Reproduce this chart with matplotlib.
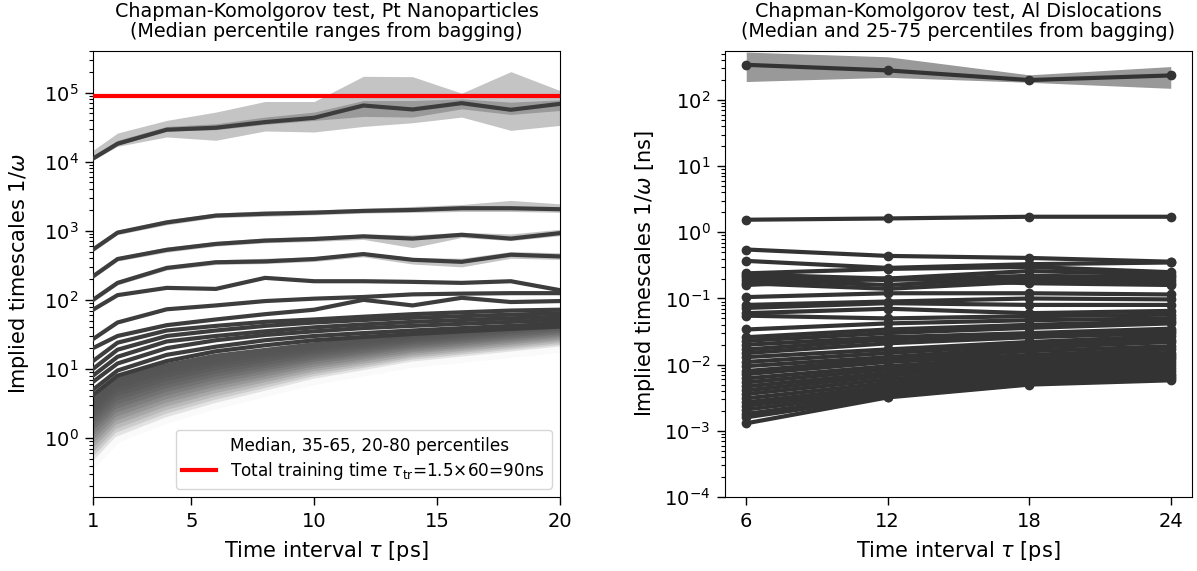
import numpy as np
import matplotlib
matplotlib.use("Agg")
import matplotlib.pyplot as plt
from matplotlib.lines import Line2D
from matplotlib.ticker import LogLocator, NullFormatter

# ---------------- Left panel data (Pt nanoparticles) ----------------
tau_left = [1, 2, 4, 6, 8, 10, 12, 14, 16, 18, 20]

# slowest process: median, 35-65 and 20-80 percentile bands
top_med = [11100, 18200, 29000, 31000, 37400, 43200, 65000, 57000, 70300, 56400, 68700]
top_p35 = [10700, 17300, 27800, 29000, 34700, 39600, 45200, 44200, 58200, 48300, 55100]
top_p65 = [11700, 20400, 32400, 35400, 44200, 52200, 76800, 76800, 81100, 72700, 78500]
top_p20 = [10500, 16700, 22800, 20400, 27800, 26900, 32400, 36600, 44200, 28400, 33500]
top_p80 = [14600, 26000, 39600, 52200, 74300, 74300, 172000, 170000, 98000, 201000, 107000]

l2_med = [535, 940, 1320, 1660, 1760, 1830, 1940, 2000, 2120, 2120, 2050]
l2_p20 = [500, 880, 1220, 1550, 1620, 1700, 1800, 1850, 1900, 1900, 1850]
l2_p80 = [580, 1020, 1450, 1800, 1950, 2000, 2100, 2250, 2400, 2750, 2450]

l3_med = [219, 390, 530, 645, 720, 760, 830, 770, 875, 770, 925]
l3_p20 = [205, 365, 490, 600, 670, 700, 750, 570, 800, 720, 850]
l3_p80 = [235, 420, 580, 700, 790, 830, 900, 870, 950, 900, 1050]

l4_med = [100, 176, 290, 350, 360, 390, 460, 380, 355, 450, 425]
l4_p20 = [93, 165, 270, 325, 335, 360, 420, 330, 300, 400, 385]
l4_p80 = [108, 190, 310, 380, 400, 420, 490, 410, 400, 500, 480]

l5_med = [72, 117, 149, 144, 208, 186, 186, 182, 176, 186, 138]
l6_med = [27, 47, 73, 83, 96, 104, 110, 120, 123, 125, 125]
l7_med = [20, 30, 43, 52, 62, 72, 100, 83, 107, 93, 96]
l8_med = [13, 24, 36, 42, 48, 52, 57, 62, 66, 70, 72]
l9_med = [10, 19, 30, 36, 42, 47, 51, 55, 58, 61, 64]
l10_med = [8, 15, 25, 30, 35, 40, 44, 48, 51, 54, 57]
l11_med = [6.5, 12, 20, 26, 31, 35, 39, 42, 45, 48, 51]
l12_med = [5, 9.5, 16, 21, 26, 30, 33, 36, 39, 42, 45]
l13_med = [4.2, 8, 13, 18, 22, 26, 29, 32, 35, 38, 41]

# fast processes (fading grey band), read at a subset of lag times
tau_fade = [1, 2, 4, 6, 10, 14, 20]
fade_lines = [
    [3.5, 7.0, 11.0, 15.0, 22.0, 30.0, 45.0],
    [3.03, 6.12, 9.75, 13.4, 20.3, 28.1, 42.5],
    [2.62, 5.36, 8.63, 12.0, 18.7, 26.4, 40.1],
    [2.27, 4.70, 7.66, 10.8, 17.2, 24.8, 37.8],
    [1.96, 4.11, 6.78, 9.68, 15.9, 23.2, 35.7],
    [1.70, 3.60, 6.01, 8.67, 14.7, 21.8, 33.8],
    [1.47, 3.15, 5.33, 7.76, 13.5, 20.5, 31.9],
    [1.27, 2.75, 4.72, 6.97, 12.4, 19.2, 30.1],
    [1.10, 2.41, 4.19, 6.24, 11.5, 18.0, 28.4],
    [0.95, 2.11, 3.71, 5.60, 10.6, 16.9, 26.9],
    [0.82, 1.85, 3.29, 5.01, 9.75, 15.8, 25.4],
    [0.71, 1.62, 2.92, 4.49, 8.99, 14.9, 23.9],
    [0.62, 1.42, 2.58, 4.03, 8.28, 13.9, 22.6],
    [0.53, 1.24, 2.29, 3.61, 7.64, 13.1, 21.3],
    [0.46, 1.09, 2.03, 3.24, 7.05, 12.3, 20.1],
    [0.40, 0.95, 1.80, 2.90, 6.50, 11.5, 19.0],
]

t_train = 90000  # 1.5 x 60 = 90 ns, in ps

# ---------------- Right panel data (Al dislocations) ----------------
tau_right = [6, 12, 18, 24]
r_top_med = [340, 280, 200, 235]
r_top_p25 = [190, 220, 185, 150]
r_top_p75 = [530, 450, 240, 320]
right_lines = [
    [1.55, 1.62, 1.72, 1.72],
    [0.55, 0.44, 0.41, 0.36],
    [0.37, 0.29, 0.33, 0.35],
    [0.24, 0.28, 0.30, 0.25],
    [0.23, 0.20, 0.26, 0.23],
    [0.21, 0.19, 0.22, 0.21],
    [0.19, 0.16, 0.20, 0.19],
    [0.17, 0.14, 0.18, 0.17],
    [0.16, 0.20, 0.17, 0.16],
    [0.105, 0.12, 0.12, 0.115],
    [0.08, 0.09, 0.10, 0.097],
    [0.072, 0.085, 0.08, 0.08],
    [0.06, 0.07, 0.06, 0.065],
    [0.055, 0.05, 0.054, 0.057],
    [0.034, 0.042, 0.047, 0.05],
    [0.026, 0.034, 0.040, 0.045],
    [0.023, 0.030, 0.036, 0.042],
    [0.020, 0.026, 0.030, 0.035],
    [0.017, 0.024, 0.028, 0.032],
    [0.015, 0.021, 0.026, 0.030],
    [0.013, 0.017, 0.022, 0.027],
    [0.011, 0.015, 0.020, 0.024],
    [0.0095, 0.013, 0.018, 0.022],
    [0.0080, 0.012, 0.016, 0.019],
    [0.0072, 0.011, 0.014, 0.017],
    [0.0062, 0.0095, 0.013, 0.015],
    [0.0054, 0.0085, 0.012, 0.014],
    [0.0047, 0.0075, 0.011, 0.013],
    [0.0041, 0.0068, 0.0098, 0.012],
    [0.0036, 0.0060, 0.0088, 0.011],
    [0.0031, 0.0053, 0.0080, 0.0098],
    [0.0027, 0.0047, 0.0072, 0.0088],
    [0.0024, 0.0042, 0.0065, 0.0080],
    [0.0021, 0.0038, 0.0059, 0.0073],
    [0.0018, 0.0035, 0.0054, 0.0067],
    [0.0016, 0.0033, 0.0051, 0.0063],
    [0.0013, 0.0032, 0.0050, 0.0058],
]

left_yticks = [1, 10, 100, 1e3, 1e4, 1e5]
right_yticks = [1e-4, 1e-3, 1e-2, 1e-1, 1, 10, 100]

# ---------------- Figure ----------------
W, H = 1197, 571
fig = plt.figure(figsize=(W / 100, H / 100), dpi=100)
top_px, bot_px = 51, 497
axL = fig.add_axes([93 / W, (H - bot_px) / H, 467 / W, (bot_px - top_px) / H])
axR = fig.add_axes([725 / W, (H - bot_px) / H, 467 / W, (bot_px - top_px) / H])

dark = "#3d3d3d"
outer_c = "#c4c4c4"
inner_c = "#9a9a9a"
TICK = 14
LAB = 15
TIT = 13.8

# fading band first (drawn beneath dark lines)
n = len(fade_lines)
t = np.linspace(0, 1, n)
greys = 0.33 + 0.65 * t ** 2.2
for g, vals in zip(greys, fade_lines):
    axL.plot(tau_fade, vals, color=str(g), lw=4.5, solid_capstyle="butt", zorder=1)

# bands of the slow processes
axL.fill_between(tau_left, top_p20, top_p80, color=outer_c, lw=0, zorder=2)
axL.fill_between(tau_left, top_p35, top_p65, color=inner_c, lw=0, zorder=2)
for lo, hi in [(l2_p20, l2_p80), (l3_p20, l3_p80), (l4_p20, l4_p80)]:
    axL.fill_between(tau_left, lo, hi, color=outer_c, lw=0, zorder=2)

for med in [top_med, l2_med, l3_med, l4_med, l5_med, l6_med, l7_med,
            l8_med, l9_med, l10_med, l11_med, l12_med, l13_med]:
    axL.plot(tau_left, med, color=dark, lw=3, zorder=3)

axL.axhline(t_train, color="red", lw=3, zorder=4)

axL.set_yscale("log")
axL.set_xlim(1, 20)
axL.set_ylim(0.14, 4.0e5)
axL.set_xticks([1, 5, 10, 15, 20])
axL.set_yticks(left_yticks)
axL.set_xlabel(r"Time interval $\tau$ [ps]", fontsize=LAB, labelpad=6)
axL.set_ylabel(r"Implied timescales $1/\omega$", fontsize=LAB, labelpad=9)
axL.set_title("Chapman-Komolgorov test, Pt Nanoparticles\n(Median percentile ranges from bagging)",
              fontsize=TIT, linespacing=1.05, pad=10)
handles = [Line2D([], [], color="none"),
           Line2D([], [], color="red", lw=3)]
labels = ["Median, 35-65, 20-80 percentiles",
          r"Total training time $\tau_{\rm tr}$=1.5×60=90ns"]
axL.legend(handles, labels, loc="lower right", fontsize=12.2,
           borderaxespad=0.5, labelspacing=0.3)

# right panel
axR.fill_between(tau_right, r_top_p25, r_top_p75, color="#999999", lw=0, zorder=1)
axR.plot(tau_right, r_top_med, color="#333333", lw=3, marker="o", ms=6, zorder=3)
for vals in right_lines:
    axR.plot(tau_right, vals, color="#333333", lw=3, marker="o", ms=6, zorder=3)
axR.set_yscale("log")
axR.set_ylim(1e-4, 550)
axR.set_xticks([6, 12, 18, 24])
axR.set_yticks(right_yticks)
axR.set_xlabel(r"Time interval $\tau$ [ps]", fontsize=LAB, labelpad=6)
axR.set_ylabel(r"Implied timescales $1/\omega$ [ns]", fontsize=LAB, labelpad=5)
axR.set_title("Chapman-Komolgorov test, Al Dislocations\n(Median and 25-75 percentiles from bagging)",
              fontsize=TIT, linespacing=1.05, pad=10)

for ax in (axL, axR):
    ax.yaxis.set_minor_locator(LogLocator(base=10, subs=np.arange(2, 10), numticks=20))
    ax.yaxis.set_minor_formatter(NullFormatter())
    ax.tick_params(which="major", labelsize=TICK, length=5.5, width=1.0, pad=5)
    ax.tick_params(which="minor", length=3, width=0.8)

fig.savefig("out.png", dpi=100)
